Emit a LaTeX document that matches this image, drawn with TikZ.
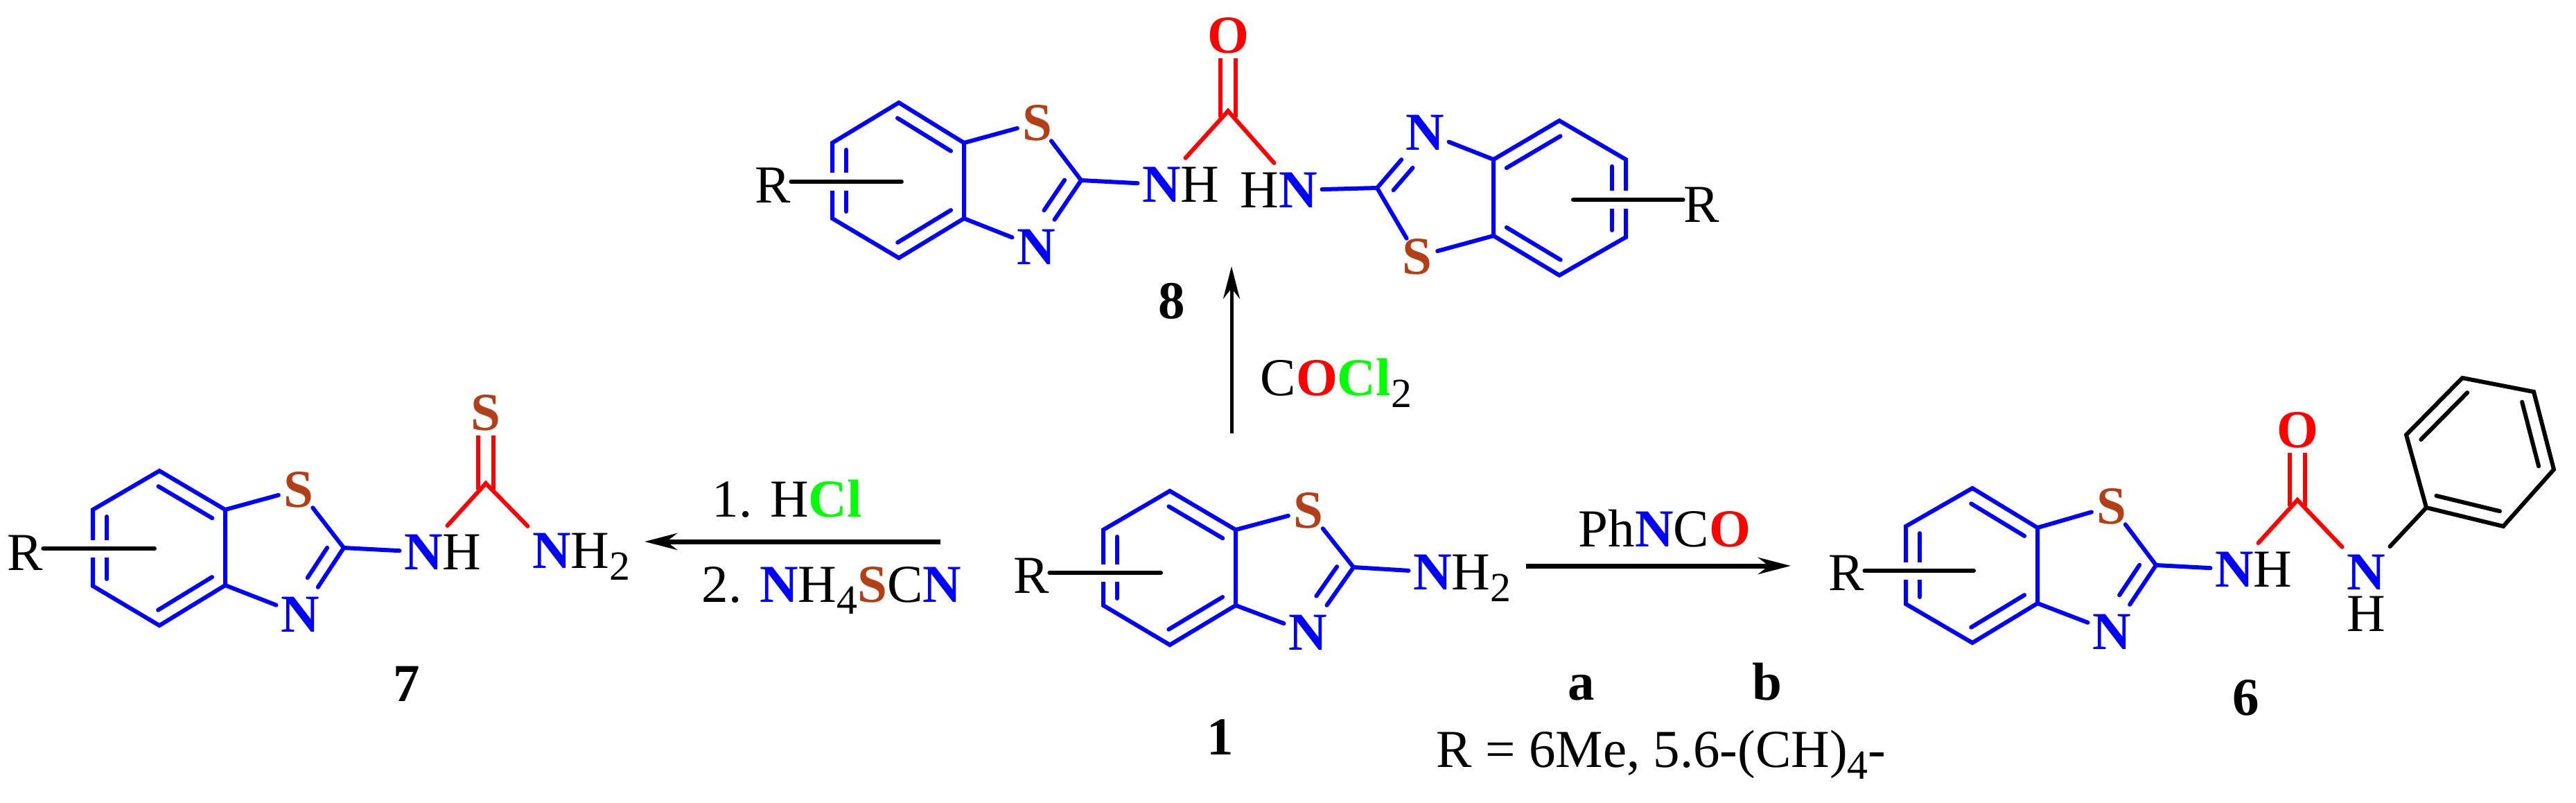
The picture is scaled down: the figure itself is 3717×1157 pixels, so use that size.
\documentclass[tikz,border=0pt]{standalone}
\usepackage{fontspec}
\setmainfont{Liberation Serif}
\usetikzlibrary{arrows.meta,calc}

\definecolor{atomBlue}{RGB}{0,0,255}
\definecolor{atomRed}{RGB}{255,0,0}
\definecolor{atomGreen}{RGB}{0,255,0}
\definecolor{atomBrown}{RGB}{178,63,23}

\newcommand{\atN}{\textbf{\textcolor{atomBlue}{N}}}
\newcommand{\atO}{\textbf{\textcolor{atomRed}{O}}}
\newcommand{\atS}{\textbf{\textcolor{atomBrown}{S}}}
\newcommand{\atCl}{\textbf{\textcolor{atomGreen}{Cl}}}
\newcommand{\subs}[1]{\raisebox{-.17cm}{\fontsize{17pt}{18pt}\selectfont #1}}

\tikzset{
    txt/.style={font=\fontsize{21.9pt}{24pt}\selectfont, inner sep=0pt},
    atom/.style={txt, text height=.51cm, text depth=0pt},
    atomS/.style={atom, inner xsep=.07cm, inner ysep=0pt},
    atomN/.style={atom, inner xsep=.06cm, inner ysep=.13cm},
    atomO/.style={atom, inner ysep=.07cm},
    reagent/.style={txt, anchor=base west},
    number/.style={txt, anchor=base, font=\fontsize{21.9pt}{24pt}\selectfont\bfseries},
    bond/.style={line width=.06cm, line cap=round},
    ringline/.style={bond, atomBlue, shorten <=.1cm, shorten >=.1cm},
    rbond/.style={bond, preaction={draw=white, line width=.25cm, line cap=butt}},
    carbonyl/.style={line width=.055cm, atomRed, double=white, double distance=.165cm, shorten <=-.09cm},
    reaction/.style={line width=.07cm, -{Stealth[length=.47cm, width=.24cm]}}
}

\newcommand{\innerbond}[3][]{\draw[#1] ($(#2)!.2cm!90:(#3)$) -- ($(#3)!.2cm!-90:(#2)$);}

\newcommand{\thiazole}[1]{
    \draw[bond, atomBlue] (#11) -- (#12) -- (#13) -- (#14) -- (#15) -- (#16) -- cycle;
    \draw[bond, atomBlue] (#16) -- (#1S) -- (#1C) -- (#1N) -- (#15);
    \foreach \Start/\End in {2/3, 4/5, 6/1}{
        \innerbond[ringline]{#1\Start}{#1\End}
    }
    \innerbond[ringline, shorten <=.5cm, shorten >=.13cm]{#1N}{#1C}
}

\begin{document}
\begin{tikzpicture}[x=.01cm, y=-.01cm]
    \useasboundingbox (0,0) rectangle (3717,1157);

    \foreach \Point [count=\i] in {(1688,708), (1592,764), (1592,873), (1688,930), (1783,873), (1783,764)}{
        \node[coordinate] (a\i) at \Point {};
    }
    \coordinate (aC) at (1953,818);
    \coordinate (aE) at (1675,826);
    \node[atomS] (aS) at (1888,736) {\atS};
    \node[atomN] (aN) at (1887,912) {\atN};
    \node[atomN] (aX) at (2067,825) {\atN\rlap{H\subs{2}}};
    \node[atom] (aR) at (1488,830) {R};
    \thiazole{a}
    \draw[bond, atomBlue] (aC) -- (aX);
    \draw[rbond] (aE -| aR.east) -- (aE);
    \node[number] (num1) at (1761,1088) {1};

    \foreach \Point [count=\i] in {(230,679), (134,735), (134,845), (230,902), (325,844), (325,735)}{
        \node[coordinate] (b\i) at \Point {};
    }
    \coordinate (bC) at (496,790);
    \coordinate (bK) at (701,697);
    \coordinate (bE) at (223,791);
    \node[atomS] (bS) at (431,706) {\atS};
    \node[atomN] (bN) at (433,886) {\atN};
    \node[atomN] (bX) at (611,796) {\atN\rlap{H}};
    \node[atomN] (bY) at (796,794) {\atN\rlap{H\subs{2}}};
    \node[atomO] (bT) at (701,595) {\atS};
    \node[atom] (bR) at (36,797) {R};
    \thiazole{b}
    \draw[bond, atomBlue] (bC) -- (bX);
    \draw[carbonyl] (bK) -- (bT);
    \draw[bond, atomRed] (bX) -- (bK) -- (bY);
    \draw[rbond] (bE -| bR.east) -- (bE);
    \node[number] (num7) at (587,1011) {7};

    \foreach \Point [count=\i] in {(2846,704), (2750,759), (2750,871), (2846,927), (2940,870), (2940,761)}{
        \node[coordinate] (c\i) at \Point {};
    }
    \coordinate (cC) at (3111,815);
    \coordinate (cK) at (3315,721);
    \coordinate (cE) at (2848,823);
    \node[atomS] (cS) at (3047,730) {\atS};
    \node[atomN] (cN) at (3047,911) {\atN};
    \node[atomN] (cX) at (3224,821) {\atN\rlap{H}};
    \node[atomN] (cY) at (3414,825) {\atN};
    \node[atom] (cH) at (3414,885) {H};
    \node[atomO] (cO) at (3315,620) {\atO};
    \node[atom] (cR) at (2664,826) {R};
    \thiazole{c}
    \draw[bond, atomBlue] (cC) -- (cX);
    \draw[carbonyl] (cK) -- (cO);
    \draw[bond, atomRed] (cX) -- (cK) -- (cY);
    \draw[rbond] (cE -| cR.east) -- (cE);
    \node[number] (num6) at (3241,1031) {6};

    \foreach \Point [count=\i] in {(3501,732), (3612,759), (3685,677), (3656,565), (3553,545), (3472,627)}{
        \node[coordinate] (ph\i) at \Point {};
    }
    \draw[bond] (ph1) -- (ph2) -- (ph3) -- (ph4) -- (ph5) -- (ph6) -- cycle;
    \draw[bond] (cY) -- (ph1);
    \foreach \Start/\End in {1/2, 3/4, 5/6}{
        \innerbond[bond, shorten <=.1cm, shorten >=.1cm]{ph\Start}{ph\End}
    }

    \foreach \Point [count=\i] in {(1297,148), (1201,206), (1201,315), (1297,372), (1391,315), (1391,206)}{
        \node[coordinate] (d\i) at \Point {};
    }
    \coordinate (dC) at (1560,260);
    \coordinate (dK) at (1772,160);
    \coordinate (dE) at (1301,262);
    \node[atomS] (dS) at (1497,177) {\atS};
    \node[atomN] (dN) at (1495,356) {\atN};
    \node[atomN] (dX) at (1676,266) {\atN\rlap{H}};
    \node[atomO] (dO) at (1772,51) {\atO};
    \node[atom] (dR) at (1115,267) {R};
    \thiazole{d}
    \draw[bond, atomBlue] (dC) -- (dX);
    \draw[carbonyl] (dK) -- (dO);
    \draw[rbond] (dE -| dR.east) -- (dE);

    \foreach \Point [count=\i] in {(2250,397), (2346,342), (2346,230), (2250,174), (2155,230), (2155,340)}{
        \node[coordinate] (e\i) at \Point {};
    }
    \coordinate (eC) at (1987,271);
    \coordinate (eE) at (2270,288);
    \node[atomS] (eS) at (2045,370) {\atS};
    \node[atomN] (eN) at (2056,191) {\atN};
    \node[atomN] (eX) at (1873,274) {\llap{H}\atN};
    \node[atom] (eR) at (2455,295) {R};
    \thiazole{e}
    \draw[bond, atomBlue] (eC) -- (eX);
    \draw[bond, atomRed] (dX) -- (dK) -- (eX);
    \draw[rbond] (eE -| eR.west) -- (eE);
    \node[number] (num8) at (1691,459) {8};

    \coordinate (up1) at (1777,625);
    \coordinate (up2) at (1777,384);
    \draw[reaction, line width=.05cm] (up1) -- (up2);
    \node[reagent] (cocl) at (1818,570) {C\atO\atCl\subs{2}};

    \coordinate (left1) at (1357,781);
    \coordinate (left2) at (930,781);
    \draw[reaction] (left1) -- (left2);
    \node[reagent] (hcl) at (1027,745) {1. H\atCl};
    \node[reagent] (scn) at (1012,868) {2. \atN H\subs{4}\atS C\atN};

    \coordinate (right1) at (2202,816);
    \coordinate (right2) at (2584,816);
    \draw[reaction] (right1) -- (right2);
    \node[reagent] (phn) at (2277,788) {Ph\atN C\atO};

    \node[number] (numa) at (2282,1009) {a};
    \node[number] (numb) at (2550,1009) {b};
    \node[reagent] (rlist) at (2072,1106) {R = 6Me, 5.6-(CH)\subs{4}-};
\end{tikzpicture}
\end{document}
